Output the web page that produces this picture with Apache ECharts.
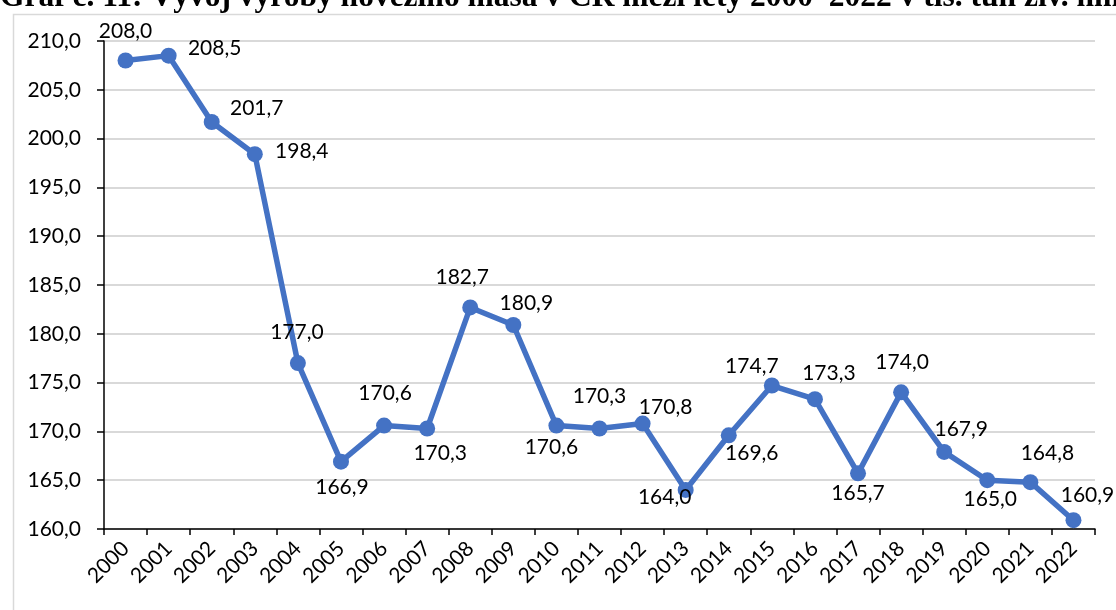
<!DOCTYPE html>
<html lang="cs">
<head>
<meta charset="utf-8" />
<title>Vývoj výroby hovězího masa</title>
<script src="https://cdn.jsdelivr.net/npm/echarts@6/dist/echarts.min.js"></script>
<style>
  html, body { margin: 0; padding: 0; background: #ffffff; }
  #chart { width: 1116px; height: 610px; }
</style>
</head>
<body>
<div id="chart"></div>
<script>
// roky a výroba (tis. tun živé hmotnosti)
var years = ['2000','2001','2002','2003','2004','2005','2006','2007','2008','2009','2010',
  '2011','2012','2013','2014','2015','2016','2017','2018','2019','2020','2021','2022'];
var production = [208.0, 208.5, 201.7, 198.4, 177.0, 166.9, 170.6, 170.3, 182.7, 180.9, 170.6,
  170.3, 170.8, 164.0, 169.6, 174.7, 173.3, 165.7, 174.0, 167.9, 165.0, 164.8, 160.9];
var yTicks = { min: 160, max: 210, step: 5 };
var titleText = 'Graf č. 11: Vývoj výroby hovězího masa v ČR mezi lety 2000–2022 v tis. tun živ. hm.';

// posun popisků vůči bodu (ručně umístěné jako v Excelu)
var labelShift = [[0,-29],[46,-7],[45,-14],[47,-3],[-1,-31],[1,26],[1,-32],[13,25],[-8,-30],[13,-22],[-5,22],
  [0,-32],[23,-16],[-21,7],[23,18],[-20,-19],[14,-26],[0,20],[1,-30],[17,-23],[3,19],[17,-29],[14,-25]];

var fmt = function (v) { return Number(v).toFixed(1).replace('.', ','); };
var font = 'Lato, "Open Sans", sans-serif';

var chart = echarts.init(document.getElementById('chart'));

var points = production.map(function (v, i) {
  return {
    value: v,
    label: { offset: labelShift[i] }
  };
});

chart.setOption({
  animation: false,
  backgroundColor: '#ffffff',
  graphic: [
    {
      type: 'rect', left: 11, top: 12, z: -10, silent: true,
      shape: { width: 1200, height: 700 },
      style: { fill: 'none', stroke: '#d9d9d9', lineWidth: 1.5 }
    },
    {
      type: 'text', left: 0, top: -18, z: 10,
      style: {
        text: titleText,
        font: 'bold 31.5px "Liberation Serif", "Times New Roman", serif',
        fill: '#000000'
      }
    }
  ],
  grid: { left: 104, right: 21, top: 41, bottom: 81 },
  xAxis: {
    type: 'category',
    data: years,
    boundaryGap: true,
    axisLine: { lineStyle: { color: '#000000', width: 1.5 } },
    axisTick: { show: true, length: 6, lineStyle: { color: '#000000', width: 1.5 } },
    axisLabel: {
      interval: 0, rotate: 45, margin: 16,
      color: '#000000', fontFamily: font, fontSize: 21
    }
  },
  yAxis: {
    type: 'value',
    min: yTicks.min, max: yTicks.max, interval: yTicks.step,
    axisLine: { show: true, lineStyle: { color: '#000000', width: 1.5 } },
    axisTick: { show: true, length: 7, lineStyle: { color: '#000000', width: 1.5 } },
    axisLabel: {
      formatter: fmt, margin: 23,
      color: '#000000', fontFamily: font, fontSize: 21
    },
    splitLine: { lineStyle: { color: '#d9d9d9', width: 2 } }
  },
  series: [{
    type: 'line',
    data: points,
    symbol: 'circle',
    symbolSize: 16,
    lineStyle: { color: '#4472c4', width: 5.5 },
    itemStyle: { color: '#4472c4' },
    label: {
      show: true,
      position: 'inside',
      align: 'center',
      verticalAlign: 'middle',
      formatter: function (p) { return fmt(p.value); },
      color: '#000000',
      fontFamily: font,
      fontSize: 21
    },
    z: 3
  }]
});

window.addEventListener('resize', function () { chart.resize(); });
</script>
</body>
</html>
